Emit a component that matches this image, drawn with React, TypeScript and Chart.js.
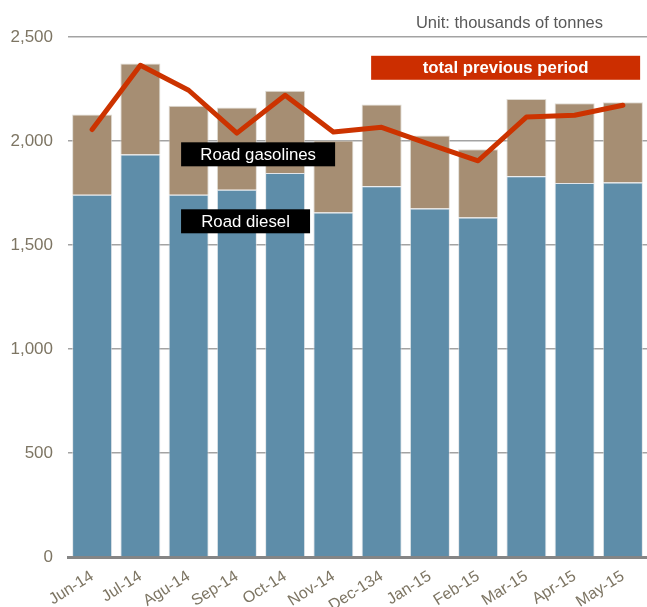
import React, { useEffect, useRef } from "react";
import { Chart, registerables } from "chart.js";

Chart.register(...registerables);

const months = ["Jun-14", "Jul-14", "Agu-14", "Sep-14", "Oct-14", "Nov-14", "Dec-134", "Jan-15", "Feb-15", "Mar-15", "Apr-15", "May-15"];
const roadDiesel = [1742, 1935, 1742, 1766, 1846, 1656, 1782, 1675, 1632, 1830, 1798, 1801];
const roadGasolines = [385, 437, 428, 395, 396, 347, 394, 352, 328, 372, 383, 385];
const totalPreviousPeriod = [2055, 2364, 2244, 2038, 2220, 2043, 2066, 1984, 1905, 2115, 2124, 2172];
const yTicks = [0, 500, 1000, 1500, 2000, 2500];

const unitText = "Unit: thousands of tonnes";
// text labels anchored to scale values (category index, value)
const labelTexts = ["Road gasolines", "Road diesel", "total previous period"];
const labelAnchors = [
  { idx: 3.44, val: 1936, w: 154, bg: "#000000", bold: false },
  { idx: 3.18, val: 1614, w: 129, bg: "#000000", bold: false },
  { idx: 8.57, val: 2352, w: 269, bg: "#cc2e00", bold: true },
];

const FONT = "'Liberation Sans', Arial, sans-serif";
const TICK_COLOR = "#7d7563";

const labelPlugin = {
  id: "labelPlugin",
  afterDatasetsDraw(chart: any) {
    const ctx = chart.ctx;
    const xs = chart.scales.x;
    const ys = chart.scales.y;
    ctx.save();
    labelAnchors.forEach((a, i) => {
      const cx = xs.getPixelForValue(0) + a.idx * (xs.getPixelForValue(1) - xs.getPixelForValue(0));
      const cy = ys.getPixelForValue(a.val);
      const h = 24;
      ctx.fillStyle = a.bg;
      ctx.fillRect(cx - a.w / 2, cy - h / 2, a.w, h);
      ctx.fillStyle = "#ffffff";
      ctx.font = `${a.bold ? "bold " : ""}16.8px ${FONT}`;
      ctx.textAlign = "center";
      ctx.textBaseline = "middle";
      ctx.fillText(labelTexts[i], cx, cy + 1);
    });
    ctx.fillStyle = "#595959";
    ctx.font = `16.5px ${FONT}`;
    ctx.textAlign = "right";
    ctx.textBaseline = "middle";
    ctx.fillText(unitText, chart.chartArea.left + 535, 23);
    ctx.restore();
  },
};

export default function App() {
  const ref = useRef<HTMLCanvasElement>(null);
  useEffect(() => {
    if (!ref.current) return;
    const chart = new Chart(ref.current, {
      type: "bar",
      data: {
        labels: months,
        datasets: [
          {
            type: "line",
            label: "total previous period",
            data: totalPreviousPeriod,
            borderColor: "#cc3300",
            borderWidth: 5,
            pointRadius: 0,
            tension: 0,
            borderCapStyle: "round",
            borderJoinStyle: "round",
            stack: "prev",
            order: 0,
          } as any,
          {
            label: "Road diesel",
            data: roadDiesel,
            backgroundColor: "#5e8da9",
            borderColor: "rgba(215,220,225,0.7)",
            borderWidth: 1,
            stack: "main",
            order: 1,
            barPercentage: 0.83,
            categoryPercentage: 1,
          },
          {
            label: "Road gasolines",
            data: roadGasolines,
            backgroundColor: "#a68e73",
            borderColor: "rgba(215,210,200,0.8)",
            borderWidth: 1,
            stack: "main",
            order: 1,
            barPercentage: 0.83,
            categoryPercentage: 1,
          },
        ],
      },
      options: {
        animation: false,
        responsive: false,
        devicePixelRatio: 1,
        layout: { padding: { top: 37, right: 0, left: 0, bottom: 0 } },
        plugins: { legend: { display: false }, tooltip: { enabled: false } },
        scales: {
          x: {
            stacked: true,
            grid: { display: false, drawTicks: false },
            border: { display: true, color: "#858585", width: 3 },
            ticks: {
              color: TICK_COLOR,
              font: { family: FONT, size: 16 },
              minRotation: 32,
              maxRotation: 32,
              autoSkip: false,
              padding: 10,
            },
            afterFit: (s: any) => {
              s.height = 50;
            },
          },
          y: {
            stacked: true,
            min: 0,
            max: 2500,
            afterBuildTicks: (s: any) => {
              s.ticks = yTicks.map((v) => ({ value: v }));
            },
            grid: { color: "#a3a3a3", lineWidth: 1.5, drawTicks: false },
            border: { display: false },
            ticks: {
              color: TICK_COLOR,
              font: { family: FONT, size: 17 },
              padding: 15,
              callback: (v: any) => Number(v).toLocaleString("en-US"),
            },
            afterFit: (s: any) => {
              s.width = 68;
            },
          },
        },
      },
      plugins: [labelPlugin],
    });
    return () => chart.destroy();
  }, []);
  return (
    <div style={{ position: "fixed", left: 0, top: 0, width: 647, height: 607 }}>
      <canvas ref={ref} width={647} height={607} style={{ width: 647, height: 607 }} />
    </div>
  );
}
